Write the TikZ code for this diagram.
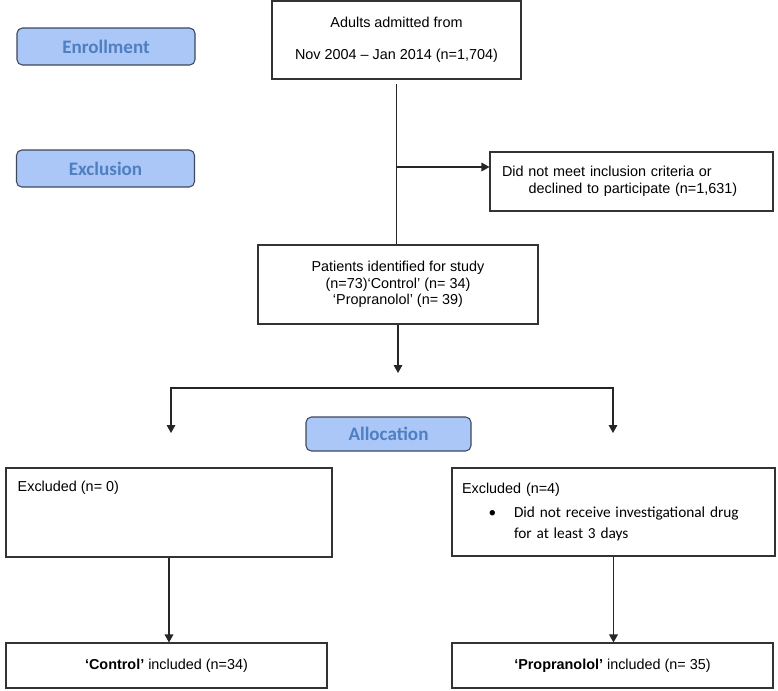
\documentclass[tikz,border=0pt]{standalone}
\usepackage{fontspec}
\setmainfont{Liberation Sans}
\newfontfamily\carlito{Carlito}
\definecolor{stagefill}{RGB}{170,199,248}
\definecolor{stagetext}{RGB}{79,127,192}
\definecolor{stageline}{RGB}{62,72,92}
\usetikzlibrary{arrows.meta}
\usetikzlibrary{positioning}
\tikzset{
  box/.style={draw=black!80, line width=0.8pt, align=center, inner sep=0pt, font=\fontsize{10.8}{13}\selectfont},
  stage/.style={draw=stageline, fill=stagefill, rounded corners=4pt, line width=0.8pt, minimum width=133.5pt, minimum height=27.75pt, text=stagetext, font=\carlito\bfseries\fontsize{14.3}{16}\selectfont},
  link/.style={line width=0.8pt, draw=black!85},
  arr/.style={link, -{Triangle[width=6.5pt,length=6pt]}},
}

\begin{document}
\begin{tikzpicture}[x=0.75pt, y=-0.75pt]
  \useasboundingbox (0,0) rectangle (778,690);

  \begin{scope}[every node/.style={stage}]
    \node (enrol) at (106,46.5) {Enrollment};
    \node (exclu) at (105.5,168.5) {Exclusion};
    \node [minimum width=123.75pt, minimum height=25.5pt] (alloc) at (388.5,434) {Allocation};
  \end{scope}

  \node [box, minimum width=186.75pt, minimum height=58.5pt] (adults) at (396.5,40) {Adults admitted from\\[11pt]Nov 2004 -- Jan 2014 (n=1,704)};
  \node [box, minimum width=212.25pt, minimum height=44.25pt, align=left, inner xsep=9pt, text width=194.25pt] (notmet) at (631.5,181.5) {Did not meet inclusion criteria or\\\hspace*{20pt}declined to participate (n=1,631)};
  \node [box, minimum width=210pt, minimum height=59.25pt, font=\fontsize{10.8}{12.4}\selectfont] (patients) at (398,284.5) {Patients identified for study\\(n=73)‘Control’ (n= 34)\\‘Propranolol’ (n= 39)};

  \node [box, minimum width=244.5pt, minimum height=66.75pt, label={[anchor=north west, inner sep=0pt, xshift=9pt, yshift=-10pt, font=\fontsize{10.8}{13}\selectfont]north west:Excluded (n= 0)}] (excl0) at (169,512.5) {};
  \node [box, minimum width=242.25pt, minimum height=66pt, align=left, inner xsep=7.5pt, text width=227.25pt, font=\fontsize{10.8}{15.75}\selectfont] (excl4) at (613.5,512) {Excluded (n=4)\\[2.25pt]{\carlito\fontsize{11.5}{15.75}\selectfont\makebox[39pt][l]{\hspace*{20pt}\textbullet}Did not receive investigational drug}\\{\carlito\fontsize{11.5}{15.75}\selectfont\hspace*{39pt}for at least 3 days}};

  \node [box, minimum width=240.75pt, minimum height=33.75pt] (incl0) at (166.5,665.5) {\textbf{‘Control’} included (n=34)};
  \node [box, minimum width=240.75pt, minimum height=33.75pt] (incl4) at (612.5,665.5) {\textbf{‘Propranolol’} included (n= 35)};

  \coordinate (split) at (396.5,167);
  \coordinate (drop) at (398,373);
  \coordinate (bl) at (171,388);
  \coordinate (br) at (613,388);
  \coordinate (lefttip) at (171,433);
  \coordinate (righttip) at (613,433);

  \draw [link, shorten <=3pt] (adults.south) -- (adults.south |- patients.north);
  \draw [arr] (split) -- (split -| notmet.west);
  \draw [arr] (patients.south) -- (drop);
  \draw [link, {Triangle[width=6.5pt,length=6pt]}-{Triangle[width=6.5pt,length=6pt]}] (lefttip) -- (bl) -- (br) -- (righttip);
  \draw [arr] (excl0.south) -- (excl0.south |- incl0.north);
  \draw [arr] (excl4.south) -- (excl4.south |- incl4.north);

\end{tikzpicture}
\end{document}
